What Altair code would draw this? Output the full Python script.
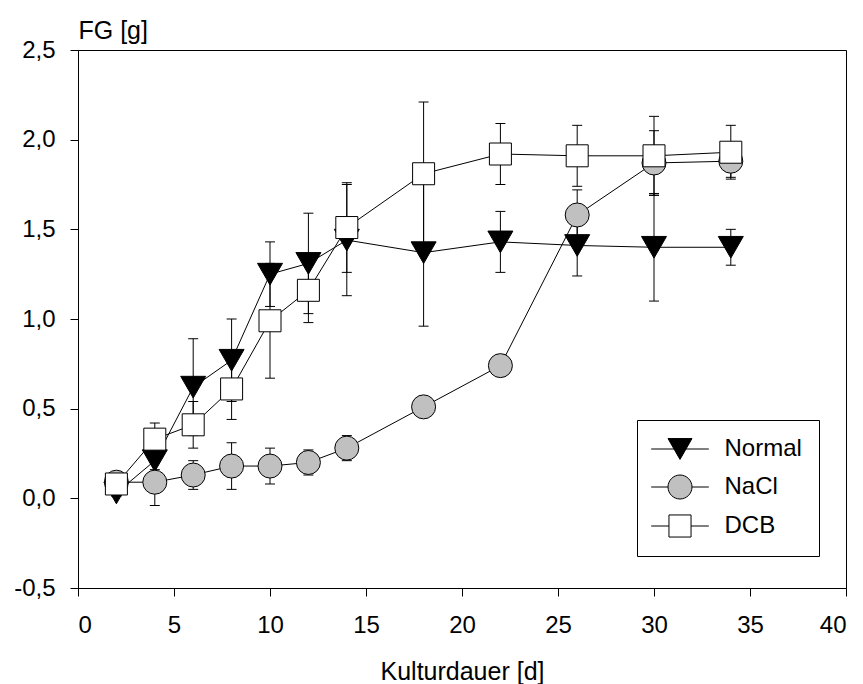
import altair as alt
import pandas as pd

# ---- data ----
days = [2, 4, 6, 8, 10, 12, 14, 18, 22, 26, 30, 34]

normal_mean = [0.03, 0.21, 0.62, 0.77, 1.25, 1.31, 1.44, 1.37, 1.43, 1.41, 1.40, 1.40]
normal_err = [0.02, 0.05, 0.27, 0.23, 0.18, 0.28, 0.31, 0.41, 0.17, 0.17, 0.30, 0.10]

nacl_mean = [0.09, 0.09, 0.13, 0.18, 0.18, 0.20, 0.28, 0.51, 0.74, 1.58, 1.87, 1.88]
nacl_err = [0.03, 0.13, 0.08, 0.13, 0.10, 0.07, 0.07, 0.04, 0.06, 0.14, 0.18, 0.09]

dcb_mean = [0.08, 0.33, 0.41, 0.61, 0.99, 1.16, 1.51, 1.81, 1.92, 1.91, 1.91, 1.93]
dcb_err = [0.02, 0.09, 0.13, 0.17, 0.32, 0.18, 0.25, 0.40, 0.17, 0.17, 0.22, 0.15]

series_names = ["Normal", "NaCl", "DCB"]
series_fills = ["black", "#c0c0c0", "white"]
series_shapes = ["triangle-down", "circle", "square"]
series_sizes = [625, 576, 484]

x_ticks = [0, 5, 10, 15, 20, 25, 30, 35, 40]
y_ticks = [-0.5, 0.0, 0.5, 1.0, 1.5, 2.0, 2.5]

# legend symbols: marker with line stubs (unit coordinates)
legend_paths = [
    "M-2.4,0H-0.5M0.5,0H2.4M-1,-0.87L1,-0.87L0,0.87Z",
    "M-2.4,0H-1M1,0H2.4M-1,0A1,1 0 1,0 1,0A1,1 0 1,0 -1,0Z",
    "M-2.4,0H-0.92M0.92,0H2.4M-0.92,-0.92H0.92V0.92H-0.92Z",
]

rows = []
for name, means, errs in [("Normal", normal_mean, normal_err),
                          ("NaCl", nacl_mean, nacl_err),
                          ("DCB", dcb_mean, dcb_err)]:
    for d, m, e in zip(days, means, errs):
        rows.append({"series": name, "day": d, "mean": m, "err": e})
df = pd.DataFrame(rows)

FONT = "Liberation Sans"

x_enc = alt.X("day:Q", scale=alt.Scale(domain=[0, 40], nice=False, zero=False),
              axis=alt.Axis(values=x_ticks, format="d", title="Kulturdauer [d]",
                            titleY=91, titleBaseline="alphabetic",
                            labelPadding=17))
y_scale = alt.Scale(domain=[-0.5, 2.5], nice=False, zero=False)
y_enc = alt.Y("mean:Q", scale=y_scale,
              axis=alt.Axis(values=y_ticks, title="FG [g]",
                            labelExpr="(datum.value < 0 ? '-' : '') + replace(format(abs(datum.value), '.1f'), '.', ',')",
                            titleAngle=0, titleX=0, titleY=-12, titleAlign="left",
                            titleBaseline="alphabetic", labelPadding=15))

base = alt.Chart(df).transform_calculate(
    lo="datum.mean - datum.err", hi="datum.mean + datum.err"
)

err_rule = base.mark_rule(color="black", strokeWidth=1, opacity=1).encode(
    x=x_enc, y=alt.Y("lo:Q", scale=y_scale), y2="hi:Q"
)
cap_hi = base.mark_tick(orient="horizontal", size=10, thickness=1, color="black", opacity=1).encode(
    x=x_enc, y=alt.Y("hi:Q", scale=y_scale)
)
cap_lo = base.mark_tick(orient="horizontal", size=10, thickness=1, color="black", opacity=1).encode(
    x=x_enc, y=alt.Y("lo:Q", scale=y_scale)
)

lines = base.mark_line(color="black", strokeWidth=1, opacity=1).encode(
    x=x_enc, y=y_enc, detail="series:N"
)

marker_layers = []
for name, fill, shape, size in zip(series_names, series_fills, series_shapes, series_sizes):
    marker_layers.append(
        base.transform_filter(alt.datum.series == name).mark_point(
            shape=shape, size=size, filled=True, fill=fill, stroke="black",
            strokeWidth=1, opacity=1
        ).encode(x=x_enc, y=y_enc)
    )

legend_props = dict(
    title=None, orient="none", legendX=559, legendY=370, padding=16.5,
    strokeColor="black", fillColor="white", symbolSize=576, symbolOffset=14,
    labelOffset=32, rowPadding=11, labelFontSize=24, labelFont=FONT,
    labelColor="black", symbolStrokeWidth=1, cornerRadius=0,
)
legend_layer = alt.Chart(df).transform_filter("false").mark_point(
    filled=True, stroke="black", strokeWidth=1, opacity=1
).encode(
    x=x_enc, y=y_enc,
    color=alt.Color("series:N", scale=alt.Scale(domain=series_names, range=series_fills),
                    legend=alt.Legend(**legend_props)),
    shape=alt.Shape("series:N", scale=alt.Scale(domain=series_names, range=legend_paths),
                    legend=alt.Legend(**legend_props)),
)

chart = alt.layer(err_rule, cap_hi, cap_lo, lines, *marker_layers, legend_layer).properties(
    width=768, height=538,
    background="white",
    autosize=alt.AutoSizeParams(type="none"),
    padding={"left": 78, "top": 50, "right": 17, "bottom": 96},
).configure_view(
    stroke="black", strokeWidth=1
).configure_axis(
    grid=False, domainColor="black", domainWidth=1, tickColor="black", tickSize=8,
    tickWidth=1, labelFont=FONT, labelFontSize=24, labelColor="black",
    titleFont=FONT, titleFontSize=25, titleColor="black", titleFontWeight="normal",
)

chart.save("out.html", embed_options={"renderer": "svg", "actions": False})
